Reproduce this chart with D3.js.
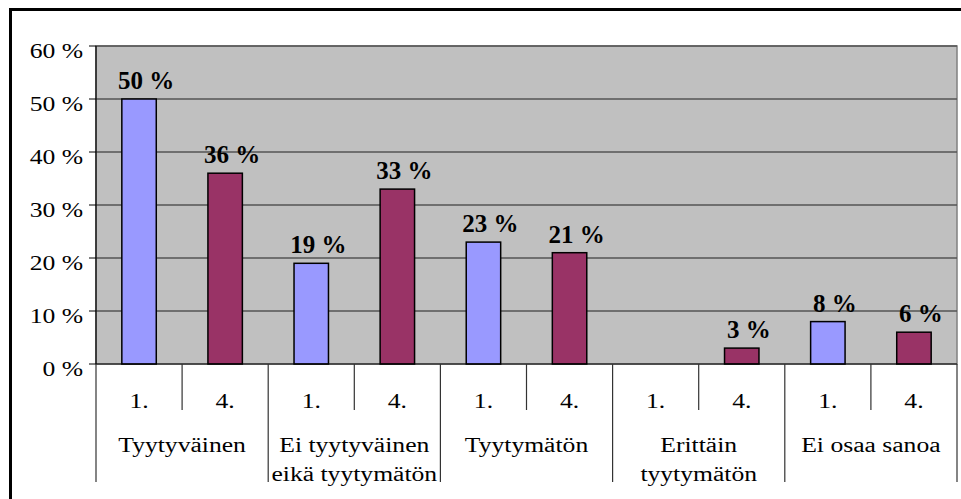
<!DOCTYPE html>
<html lang="fi">
<head>
<meta charset="UTF-8" />
<title>Tyytyväisyys</title>
<style>
  html, body { margin: 0; padding: 0; background: #fff; }
  svg { display: block; font-family: "Liberation Serif", "Times New Roman", serif; }
  .grid line { stroke: #555; stroke-width: 1.3; }
  .bar { stroke: #000; stroke-width: 1.5; }
  .lbl { font-size: 20.5px; fill: #000; }
  .val { font-size: 25px; font-weight: bold; fill: #000; }
</style>
</head>
<body>
<svg width="961" height="499"></svg>
<script src="https://d3js.org/d3.v7.min.js"></script>
<script>
// categories and values
const groups = [
  ["Tyytyväinen"],
  ["Ei tyytyväinen", "eikä tyytymätön"],
  ["Tyytymätön"],
  ["Erittäin", "tyytymätön"],
  ["Ei osaa sanoa"]
];
const subcats = ["1.", "4."];
const values1 = [50, 19, 23, null, 8];   // "1." bars
const values4 = [36, 33, 21, 3, 6];      // "4." bars
const yTicks = [0, 10, 20, 30, 40, 50, 60];
const colors = { "1.": "#9999ff", "4.": "#993366" };

// axis glyphs in the picture are stretched sideways
const stretch = 1.25;

const slots = [];
groups.forEach((g, gi) => {
  subcats.forEach((s, si) => {
    slots.push({ key: gi + "-" + si, group: gi, sub: s,
      value: si === 0 ? values1[gi] : values4[gi] });
  });
});

const svg = d3.select("svg");
const plotLeft = 96, plotRight = 957, plotTop = 46, plotBottom = 364;

const x = d3.scaleBand()
  .domain(slots.map(d => d.key))
  .range([plotLeft, plotRight])
  .paddingInner(0.6)
  .paddingOuter(0.3);
const step = x.step();
const slotLeft = k => x(k) - x.paddingOuter() * step;

const y = d3.scaleLinear().domain([0, 60]).range([plotBottom, plotTop]);

function stretchedText(sel, tx, ty, sx = stretch) {
  return sel.attr("text-anchor", "middle")
    .attr("transform", `translate(${tx},${ty}) scale(${sx},1)`);
}

// outer frame (cut off at the right and bottom)
svg.append("rect")
  .attr("x", 10.5).attr("y", 9.5)
  .attr("width", 1000).attr("height", 600)
  .attr("fill", "none").attr("stroke", "#000").attr("stroke-width", 3);

// plot area
svg.append("rect")
  .attr("x", plotLeft).attr("y", plotTop)
  .attr("width", plotRight - plotLeft).attr("height", plotBottom - plotTop)
  .attr("fill", "#c0c0c0").attr("stroke", "#808080").attr("stroke-width", 1.5);

// gridlines
svg.append("g").attr("class", "grid")
  .selectAll("line")
  .data(yTicks.filter(t => t > 0))
  .join("line")
  .attr("x1", plotLeft).attr("x2", plotRight)
  .attr("y1", d => y(d)).attr("y2", d => y(d));

// y axis
svg.append("line")
  .attr("x1", plotLeft).attr("x2", plotLeft).attr("y1", plotTop).attr("y2", plotBottom)
  .attr("stroke", "#000").attr("stroke-width", 1.2);
svg.append("g").selectAll("line")
  .data(yTicks).join("line")
  .attr("x1", plotLeft - 7).attr("x2", plotLeft)
  .attr("y1", d => y(d)).attr("y2", d => y(d))
  .attr("stroke", "#000");
svg.append("g").selectAll("text")
  .data(yTicks).join("text")
  .attr("class", "lbl")
  .attr("text-anchor", "end")
  .attr("transform", d => `translate(83,${y(d) + 12}) scale(${stretch},1)`)
  .text(d => d + " %");

// bars
const withBar = slots.filter(d => d.value != null);
svg.append("g").selectAll("rect")
  .data(withBar).join("rect")
  .attr("class", "bar")
  .attr("x", d => x(d.key))
  .attr("width", x.bandwidth())
  .attr("y", d => y(d.value))
  .attr("height", d => y(0) - y(d.value))
  .attr("fill", d => colors[d.sub]);

// value labels
svg.append("g").selectAll("text")
  .data(withBar).join("text")
  .attr("class", "val")
  .each(function (d) {
    stretchedText(d3.select(this), x(d.key) + x.bandwidth() / 2 + 7, y(d.value) - 10, 1);
  })
  .text(d => d.value + " %");

// x axis line
svg.append("line")
  .attr("x1", plotLeft).attr("x2", plotRight).attr("y1", plotBottom).attr("y2", plotBottom)
  .attr("stroke", "#000").attr("stroke-width", 1.2);

// category ticks: short between sub-categories, long between groups
const tickPos = slots.map(d => slotLeft(d.key)).concat([plotRight]);
svg.append("g").selectAll("line")
  .data(tickPos).join("line")
  .attr("x1", d => d).attr("x2", d => d)
  .attr("y1", plotBottom)
  .attr("y2", (d, i) => i % 2 === 0 ? 482 : 410)
  .attr("stroke", "#333").attr("stroke-width", 1.2);

// sub-category labels
svg.append("g").selectAll("text")
  .data(slots).join("text")
  .attr("class", "lbl")
  .each(function (d) {
    stretchedText(d3.select(this), x(d.key) + x.bandwidth() / 2, 408);
  })
  .text(d => d.sub);

// group labels
groups.forEach((lines, gi) => {
  const cx = slotLeft(gi + "-0") + step;
  lines.forEach((t, li) => {
    svg.append("text").attr("class", "lbl")
      .call(stretchedText, cx, 452 + li * 28.5)
      .text(t);
  });
});
</script>
</body>
</html>
